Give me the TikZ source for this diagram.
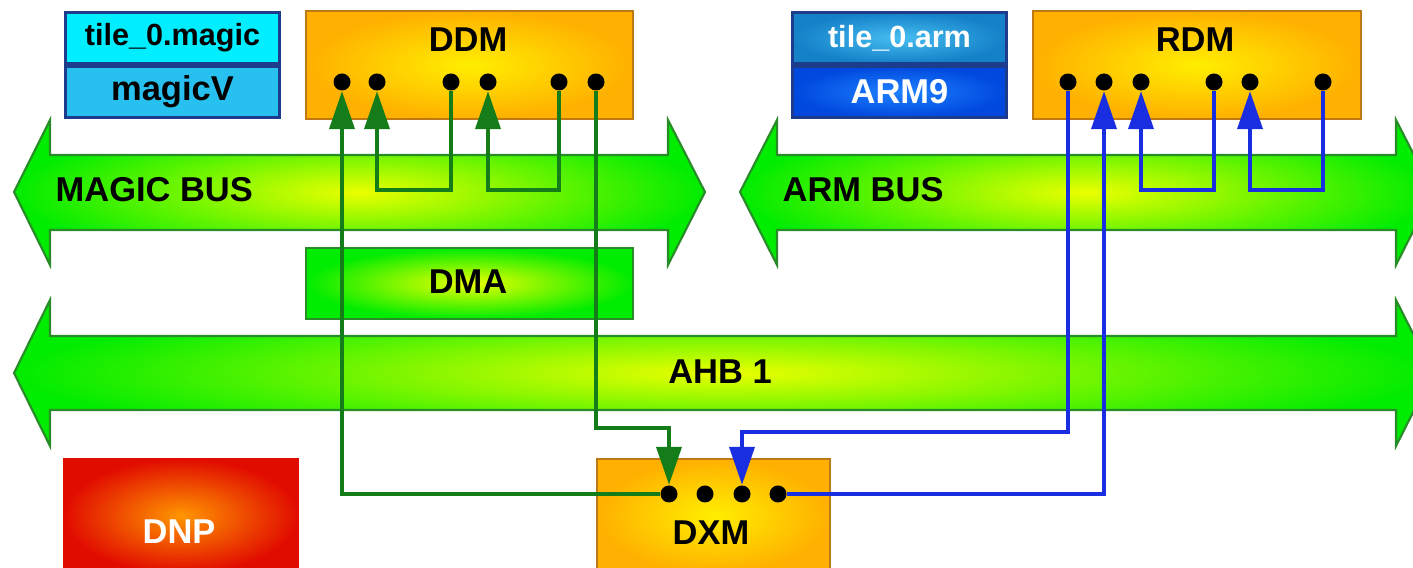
\documentclass[tikz,border=0pt]{standalone}
\usepackage{fontspec}
\setmainfont{Liberation Sans}
\usetikzlibrary{arrows.meta, positioning}

\definecolor{busgreen}{RGB}{0,236,0}
\definecolor{busedge}{RGB}{40,140,40}
\definecolor{glowyellow}{RGB}{235,255,0}
\definecolor{unitorange}{RGB}{255,176,0}
\definecolor{unityellow}{RGB}{255,238,0}
\definecolor{unitedge}{RGB}{190,120,20}
\definecolor{dnpred}{RGB}{225,12,0}
\definecolor{dnporange}{RGB}{255,150,0}
\definecolor{tilecyan}{RGB}{0,238,255}
\definecolor{magicblue}{RGB}{40,192,238}
\definecolor{tileedge}{RGB}{30,60,140}
\definecolor{armteal}{RGB}{20,128,200}
\definecolor{armlight}{RGB}{70,190,240}
\definecolor{armblue}{RGB}{0,72,222}
\definecolor{armbright}{RGB}{30,130,255}
\definecolor{wiregreen}{RGB}{20,125,25}
\definecolor{wireblue}{RGB}{25,45,225}

\begin{document}
\begin{tikzpicture}[
		x=0.01cm, y=-0.01cm,
		tilebox/.style={rectangle, draw=tileedge, line width=0.8pt, minimum width=2.14cm, minimum height=0.51cm, inner sep=0pt},
		unitbox/.style={rectangle, draw=unitedge, line width=0.5pt, anchor=north west, minimum width=3.27cm, minimum height=1.08cm, inner color=unityellow, outer color=unitorange},
		bus/.style={draw=busedge, line width=0.6pt, inner color=glowyellow, outer color=busgreen},
		dot/.style={circle, fill=black, minimum size=0.17cm, inner sep=0pt},
		boxtitle/.style={inner sep=0pt, font=\bfseries\fontsize{9.8}{11}\selectfont},
		tiletext/.style={font=\bfseries\fontsize{8.7}{10}\selectfont},
		gline/.style={draw=wiregreen, line width=1.1pt, -{Triangle[length=0.38cm, width=0.25cm]}},
		bline/.style={draw=wireblue, line width=1.1pt, -{Triangle[length=0.38cm, width=0.25cm]}}
		]
		\clip (0,0) rectangle (1413,568);
		
		% Buses
		\path[bus] (14,192) -- (50,120) -- (50,155) -- (668,155) -- (668,120) -- (705,192) -- (668,265) -- (668,230) -- (50,230) -- (50,265) -- cycle;
		\path[bus] (740,192) -- (777,120) -- (777,155) -- (1396,155) -- (1396,120) -- (1433,192) -- (1396,265) -- (1396,230) -- (777,230) -- (777,265) -- cycle;
		\path[bus] (14,373) -- (50,300) -- (50,336) -- (1396,336) -- (1396,300) -- (1433,373) -- (1396,446) -- (1396,410) -- (50,410) -- (50,446) -- cycle;
		\node (magicbus) [boxtitle, anchor=west] at (55,190) {MAGIC BUS};
		\node (armbus) [boxtitle, anchor=west] at (782,190) {ARM BUS};
		\node (ahb) [boxtitle] at (720,372) {AHB 1};
		
		% Processors
		\node (magic) [tilebox, tiletext, anchor=north west, fill=tilecyan] at (64,11) {tile\_0.magic};
		\node (magicv) [tilebox, boxtitle, fill=magicblue, minimum width=2.14cm, minimum height=0.51cm, below=0pt of magic] {magicV};
		\node (arm) [tilebox, tiletext, anchor=north west, text=white, inner color=armlight, outer color=armteal] at (791,11) {tile\_0.arm};
		\node (arm9) [tilebox, boxtitle, text=white, inner color=armbright, outer color=armblue, minimum width=2.14cm, minimum height=0.51cm, below=0pt of arm] {ARM9};
		
		% Units
		\node (ddm) [unitbox] at (305,10) {};
		\node (rdm) [unitbox, minimum width=3.28cm] at (1032,10) {};
		\node (dma) [unitbox, minimum height=0.71cm, draw=busedge, inner color=glowyellow, outer color=busgreen] at (305,247) {};
		\node (dnp) [unitbox, minimum width=2.34cm, minimum height=1.14cm, draw=dnpred, inner color=dnporange, outer color=dnpred] at (63,458) {};
		\node (dxm) [unitbox, minimum width=2.33cm, minimum height=1.14cm] at (596,458) {};
		\node (ddmtitle) [boxtitle] at (468,40) {DDM};
		\node (rdmtitle) [boxtitle] at (1195,40) {RDM};
		\node (dmatitle) [boxtitle] at (468,282) {DMA};
		\node (dnptitle) [boxtitle, text=white] at (179,532) {DNP};
		\node (dxmtitle) [boxtitle] at (711,533) {DXM};
		
		% Ports
		\node (dd1) [dot] at (342,82) {};
		\node (dd2) [dot] at (377,82) {};
		\node (dd3) [dot] at (451,82) {};
		\node (dd4) [dot] at (488,82) {};
		\node (dd5) [dot] at (559,82) {};
		\node (dd6) [dot] at (596,82) {};
		\node (rd1) [dot] at (1068,82) {};
		\node (rd2) [dot] at (1104,82) {};
		\node (rd3) [dot] at (1141,82) {};
		\node (rd4) [dot] at (1214,82) {};
		\node (rd5) [dot] at (1250,82) {};
		\node (rd6) [dot] at (1323,82) {};
		\node (xm1) [dot] at (669,494) {};
		\node (xm2) [dot] at (705,494) {};
		\node (xm3) [dot] at (742,494) {};
		\node (xm4) [dot] at (778,494) {};
		\coordinate (loop) at (0,190);
		\coordinate (greenrun) at (0,428);
		\coordinate (bluerun) at (0,432);
		
		% Wires
		\draw [gline] (xm1) -| (dd1);
		\draw [gline] (dd3) -- (dd3 |- loop) -| (dd2);
		\draw [gline] (dd5) -- (dd5 |- loop) -| (dd4);
		\draw [gline] (dd6) -- (dd6 |- greenrun) -| (xm1);
		\draw [bline] (rd1) -- (rd1 |- bluerun) -| (xm3);
		\draw [bline] (xm4) -| (rd2);
		\draw [bline] (rd4) -- (rd4 |- loop) -| (rd3);
		\draw [bline] (rd6) -- (rd6 |- loop) -| (rd5);
		
	\end{tikzpicture}
\end{document}
